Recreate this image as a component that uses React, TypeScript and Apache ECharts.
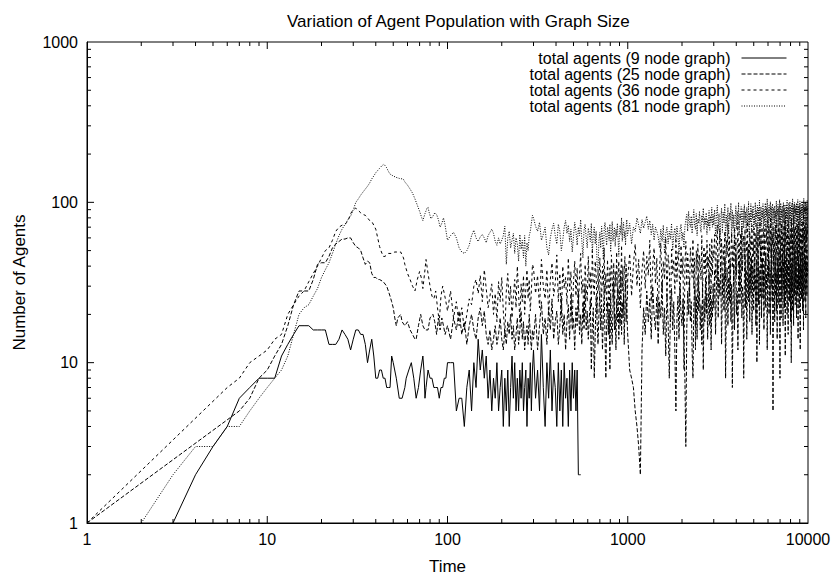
import React, { useEffect, useRef } from 'react';
import * as echarts from 'echarts';

const TITLE = 'Variation of Agent Population with Graph Size';
const X_NAME = 'Time';
const Y_NAME = 'Number of Agents';
const NAMES = [
  'total agents (9 node graph)',
  'total agents (25 node graph)',
  'total agents (36 node graph)',
  'total agents (81 node graph)',
];
const FONT = '"Liberation Sans", Arial, Helvetica, sans-serif';

// ---- early part of each run: [time, agents] ----
const early9: [number, number][] = [
  [3, 1], [4, 2], [5, 3], [6, 4], [7, 6], [8, 7], [9, 8], [10, 8], [11, 8], [12, 11], [13, 13], [14, 15], [15, 17],
  [16, 17], [17, 17], [18, 16], [19, 16], [20, 16], [21, 16], [22, 13], [23, 13], [24, 13], [25, 14], [26, 16],
  [27, 15], [28, 14], [29, 12], [30, 14], [31, 16], [32, 16], [33, 15], [34, 15], [35, 13], [36, 10], [37, 12],
  [38, 14], [39, 11], [40, 8], [41, 8], [42, 9], [43, 9], [44, 8], [45, 8], [46, 7], [47, 7], [48, 7], [49, 11],
  [50, 10], [52, 8], [54, 6], [56, 6], [58, 7], [59, 8], [61, 9], [63, 10], [65, 8], [67, 6], [69, 7], [71, 9],
  [73, 11], [74, 9], [75, 6], [76, 7], [78, 9], [80, 8], [82, 8], [84, 7], [86, 7], [88, 7], [90, 6], [92, 7],
  [94, 7], [96, 8], [98, 8],
];
const early25: [number, number][] = [
  [1, 1], [7, 5], [8, 6], [9, 8], [10, 9], [11, 11], [12, 13], [13, 17], [14, 23], [15, 28], [16, 28], [17, 28],
  [18, 33], [19, 41], [20, 42], [21, 42], [22, 46], [23, 52], [24, 55], [25, 57], [26, 59], [27, 59], [28, 60],
  [29, 60], [30, 56], [31, 53], [32, 52], [33, 50], [34, 45], [35, 41], [36, 43], [37, 42], [38, 36], [39, 34],
  [40, 34], [41, 33], [42, 33], [44, 32], [46, 30], [48, 26], [49, 24], [50, 22], [51, 19], [52, 17], [53, 19],
  [55, 20], [56, 18], [58, 17], [60, 18], [62, 16], [64, 15], [66, 14], [67, 14], [69, 17], [71, 20], [73, 17],
  [75, 16], [78, 16], [80, 19], [83, 20], [85, 18], [87, 15], [89, 19], [91, 16], [93, 19], [95, 17], [97, 15],
];
const early36: [number, number][] = [
  [1, 1], [6, 7], [7, 8], [8, 10], [9, 11], [10, 12], [11, 14], [12, 15], [13, 20], [14, 23], [15, 26], [16, 28],
  [17, 32], [18, 36], [19, 40], [20, 45], [21, 50], [22, 52], [23, 58], [24, 66], [25, 70], [26, 72], [27, 73],
  [28, 76], [29, 85], [30, 90], [31, 92], [32, 89], [33, 86], [34, 84], [35, 83], [36, 80], [37, 77], [38, 76],
  [39, 72], [40, 68], [41, 60], [42, 53], [43, 49], [44, 46], [45, 46], [47, 48], [49, 48], [51, 49], [53, 49],
  [55, 49], [57, 45], [58, 41], [60, 36], [62, 33], [64, 30], [66, 28], [68, 33], [70, 37], [72, 33], [73, 29],
  [75, 38], [76, 44], [78, 36], [80, 30], [82, 26], [84, 25], [86, 28], [88, 22], [90, 18], [92, 26], [94, 30],
  [96, 27], [98, 24],
];
const early81: [number, number][] = [
  [2, 1], [3, 2], [4, 3], [5, 3], [6, 4], [7, 4], [8, 5], [9, 6], [10, 7], [11, 8], [12, 9], [13, 11], [14, 15],
  [15, 20], [16, 22], [17, 23], [18, 26], [19, 29], [20, 34], [21, 38], [22, 42], [23, 48], [24, 55], [25, 62],
  [26, 68], [27, 73], [28, 78], [29, 82], [30, 90], [31, 100], [32, 105], [33, 111], [34, 116], [35, 121],
  [36, 126], [37, 132], [38, 140], [39, 146], [40, 153], [41, 158], [42, 163], [43, 168], [44, 172], [45, 170],
  [46, 164], [47, 156], [48, 150], [50, 146], [52, 143], [54, 141], [56, 140], [57, 139], [58, 134], [60, 128],
  [62, 121], [64, 114], [66, 105], [68, 96], [70, 88], [72, 80], [73, 77], [75, 85], [77, 92], [78, 93], [79, 87],
  [81, 79], [83, 82], [85, 86], [87, 84], [89, 78], [91, 70], [93, 74], [95, 80], [97, 72], [99, 62],
];

// ---- later part, sampled on a regular time step per stretch: [first time, step] ----
const STRETCH_A = [100, 4];
const STRETCH_B = [300, 8];
const STRETCH_C = [1000, 25];
const STRETCH_D = [3000, 35];

const tail9A = [10, 10, 10, 5, 6, 6, 4, 7, 9, 5, 10, 7, 14, 9, 12, 8, 11, 6, 9, 5, 8, 6, 10, 5, 7, 9, 4, 8, 5, 9,
  4, 7, 11, 6, 10, 5, 8, 5, 9, 6, 10, 5, 7, 9, 4, 8, 6, 10, 5, 9];
const tail9B = [12, 6, 9, 5, 15, 7, 4, 10, 6, 12, 5, 9, 7, 4, 10, 5, 9, 4, 10, 6, 8, 4, 9, 5, 10, 6, 9, 5, 9, 2, 2, 2];

const tail25A = [17, 14, 19, 16, 21, 15, 18, 13, 17, 20, 16, 14, 19, 22, 17, 21, 15, 13, 16, 12,
  14, 17, 13, 15, 19, 14, 12, 16, 13, 18, 15, 20, 14, 17, 12, 15, 19, 13, 16, 21,
  14, 18, 12, 15, 17, 13, 20, 15, 12, 16];
const tail25B = [14, 20, 12, 17, 24, 15, 19, 13, 22, 16, 25, 14, 18, 21, 13, 17, 26, 15, 20, 12,
  18, 23, 14, 27, 16, 19, 12, 22, 17, 28, 15, 20, 13, 24, 18, 30, 16, 21, 14, 19,
  25, 9, 17, 22, 8, 15, 26, 18, 13, 20, 28, 16, 23, 12, 19, 30, 14, 8, 18, 24,
  15, 21, 9, 27, 17, 13, 22, 32, 16, 20, 12, 25, 18, 29, 14, 21, 17, 33, 15, 24,
  19, 27, 13, 22, 31, 18, 25, 16];
const tail25C = [16, 9, 8, 7, 5, 4, 3, 2, 12, 22, 15, 28, 18, 25, 14, 30, 20, 16, 26, 13,
  24, 19, 32, 15, 22, 11, 27, 18, 8, 21, 29, 16, 24, 12, 5, 19, 26, 14, 30, 20,
  17, 25, 13, 8, 3, 16, 28, 20, 33, 18, 24, 12, 8, 22, 30, 17, 26, 14, 35, 21,
  28, 16, 23, 13, 31, 9, 25, 18, 34, 20, 27, 14, 22, 36, 17, 29, 12, 25, 19, 31];
const tail25D = [
  22, 38, 15, 30, 44, 19, 33, 26, 41, 13, 29, 36, 21, 45, 8, 27, 39, 17, 34, 24,
  43, 18, 31, 7, 25, 40, 16, 35, 47, 20, 28, 12, 37, 42, 23, 32, 49, 19, 30, 26,
  8, 34, 45, 22, 38, 14, 29, 51, 24, 36, 18, 41, 27, 46, 15, 33, 39, 21, 44, 28,
  35, 17, 42, 10, 30, 48, 23, 37, 13, 40, 26, 52, 19, 34, 45, 25, 38, 16, 31, 43,
  22, 47, 29, 36, 12, 41, 33, 50, 20, 27, 44, 15, 38, 30, 53, 24, 35, 5, 28, 46,
  32, 18, 42, 26, 49, 21, 37, 14, 45, 31, 39, 23, 51, 28, 8, 34, 47, 19, 40, 25,
  36, 48, 17, 43, 29, 54, 22, 38, 11, 46, 33, 27, 50, 20, 41, 35, 15, 44, 30, 52,
  24, 39, 47, 18, 36, 10, 42, 28, 55, 21, 45, 32, 17, 48, 37, 26, 51, 23, 40, 31,
  46, 19, 38, 53, 27, 35, 14, 44, 29, 49, 22, 41, 36, 12, 47, 30, 54, 25, 39, 33,
  50, 21, 43, 34, 16, 48, 28, 40, 55, 24, 37, 45, 19, 52, 31, 42, 26, 47, 35, 38];

const tail36A = [21, 28, 19, 24, 17, 22, 16, 20, 25, 23, 30, 33, 27, 35, 24, 38, 29, 22, 26, 31,
  20, 27, 18, 32, 24, 34, 21, 15, 28, 36, 23, 30, 19, 26, 33, 22, 40, 27, 18, 31,
  24, 35, 20, 29, 38, 25, 33, 21, 28, 41];
const tail36B = [39, 27, 35, 22, 44, 30, 25, 38, 20, 33, 42, 26, 31, 47, 24, 36, 19, 40, 29, 34,
  23, 45, 28, 37, 18, 32, 43, 26, 39, 21, 35, 48, 27, 33, 16, 41, 30, 24, 46, 29,
  37, 22, 50, 31, 26, 43, 35, 20, 38, 28, 45, 33, 24, 40, 30, 52, 27, 36, 21, 44,
  32, 15, 39, 28, 47, 34, 25, 42, 19, 37, 30, 49, 26, 35, 43, 23, 38, 31, 54, 28,
  40, 22, 36, 46, 29, 41, 33, 25];
const tail36C = [34, 48, 26, 41, 55, 30, 44, 22, 38, 50, 29, 46, 35, 58, 24, 40, 52, 31, 45, 19,
  37, 56, 28, 43, 33, 60, 25, 47, 39, 18, 51, 36, 44, 27, 58, 32, 49, 41, 23, 54,
  35, 46, 9, 40, 57, 30, 48, 38, 26, 52, 43, 34, 59, 29, 45, 12, 50, 37, 55, 28,
  47, 40, 33, 62, 26, 44, 53, 36, 49, 22, 58, 39, 46, 31, 55, 42, 27, 60, 35, 50];
const tail36D = [
  45, 63, 34, 56, 72, 29, 50, 68, 38, 59, 26, 53, 41, 66, 32, 58, 46, 73, 36, 61,
  23, 49, 65, 39, 55, 31, 70, 43, 60, 35, 52, 75, 40, 57, 28, 64, 47, 71, 37, 54,
  62, 44, 68, 30, 58, 49, 76, 39, 56, 27, 66, 42, 61, 51, 72, 36, 58, 46, 69, 33,
  55, 64, 41, 74, 48, 60, 35, 67, 53, 79, 44, 62, 38, 70, 50, 57, 31, 65, 46, 73,
  52, 40, 68, 56, 77, 43, 61, 34, 71, 49, 59, 81, 45, 66, 37, 63, 54, 75, 41, 69,
  46, 57, 33, 72, 60, 48, 78, 42, 64, 51, 70, 38, 67, 55, 80, 44, 62, 36, 74, 50,
  65, 43, 71, 58, 47, 76, 39, 68, 53, 82, 46, 63, 57, 35, 73, 49, 66, 41, 77, 52,
  60, 45, 70, 37, 64, 55, 79, 42, 67, 50, 74, 47, 61, 83, 44, 69, 56, 40, 72, 58,
  48, 66, 53, 78, 43, 71, 59, 38, 75, 51, 64, 46, 80, 55, 68, 42, 73, 57, 62, 49,
  76, 44, 69, 58, 84, 47, 65, 53, 71, 40, 78, 60, 50, 74, 56, 67, 45, 81, 63, 70];

const tail81A = [58, 62, 65, 60, 52, 49, 48, 50, 54, 62, 67, 60, 57, 61, 63, 60, 56, 62, 65, 68,
  64, 57, 54, 60, 55, 58, 62, 71, 41, 60, 66, 52, 58, 64, 48, 60, 55, 43, 63, 51,
  58, 45, 62, 40, 56, 50, 62, 66, 74, 83];
const tail81B = [80, 71, 66, 75, 58, 63, 70, 52, 47, 60, 68, 74, 62, 55, 73, 66, 50, 58, 70, 77,
  64, 72, 57, 68, 49, 61, 75, 66, 54, 70, 62, 78, 58, 45, 67, 73, 60, 52, 69, 64,
  57, 74, 48, 63, 70, 55, 66, 40, 38, 58, 65, 52, 71, 60, 44, 68, 75, 62, 54, 70,
  66, 58, 73, 49, 62, 76, 57, 64, 70, 53, 68, 61, 74, 59, 46, 66, 72, 63, 80, 57,
  69, 75, 60, 66, 54, 71, 78, 62];
const tail81C = [62, 74, 55, 70, 66, 80, 72, 64, 78, 69, 75, 82, 68, 77, 63, 73, 58, 70, 66, 61,
  52, 68, 57, 72, 48, 64, 70, 55, 66, 59, 74, 50, 63, 69, 56, 71, 62, 47, 67, 73,
  58, 65, 52, 70, 78, 84, 66, 88, 75, 70, 82, 64, 77, 90, 72, 68, 85, 62, 79, 74,
  88, 70, 65, 83, 76, 92, 68, 80, 73, 86, 63, 78, 71, 89, 67, 82, 75, 93, 70, 84];
const tail81D = [
  72, 90, 61, 82, 96, 67, 85, 55, 79, 92, 65, 87, 74, 98, 58, 83, 70, 93, 63, 86,
  77, 99, 57, 89, 69, 84, 52, 80, 95, 68, 88, 73, 100, 62, 85, 78, 94, 56, 82, 91,
  69, 97, 76, 87, 64, 93, 81, 71, 101, 60, 86, 75, 98, 67, 90, 79, 95, 63, 84, 73,
  100, 70, 88, 81, 96, 59, 92, 77, 103, 66, 85, 94, 71, 89, 80, 98, 62, 91, 75, 87,
  99, 68, 93, 82, 105, 73, 90, 64, 96, 79, 86, 101, 71, 94, 65, 89, 98, 77, 92, 83,
  74, 95, 60, 88, 80, 102, 69, 91, 84, 97, 66, 93, 78, 104, 72, 87, 99, 63, 90, 81,
  95, 70, 86, 100, 75, 92, 67, 97, 83, 89, 62, 96, 79, 103, 74, 88, 93, 68, 99, 85,
  78, 101, 72, 94, 87, 64, 98, 82, 90, 105, 76, 93, 69, 97, 86, 100, 73, 91, 84, 96,
  66, 99, 81, 92, 77, 104, 70, 95, 88, 63, 97, 80, 102, 75, 90, 86, 98, 71, 94, 83,
  89, 100, 74, 96, 82, 106, 68, 93, 87, 99, 77, 101, 84, 92, 72, 97, 88, 103, 80, 95];

// axis decorations
const DECADES_X = [1, 10, 100, 1000];
const DECADES_Y = [1, 10, 100];
const MINOR_MULT = [2, 3, 4, 5, 6, 7, 8, 9];
const MAJOR_X = [10, 100, 1000];
const MAJOR_Y = [10, 100];

function stretch(s: number[], values: number[]): [number, number][] {
  return values.map((v, i) => [s[0] + i * s[1], v]);
}

function buildTicks() {
  const out: number[][] = [];
  const MINOR = 4;
  const MAJOR = 7;
  DECADES_X.forEach((d) => MINOR_MULT.forEach((m) => {
    out.push([d * m, 1, 0, MINOR]);
    out.push([d * m, 1000, 1, MINOR]);
  }));
  MAJOR_X.forEach((t) => { out.push([t, 1, 0, MAJOR]); out.push([t, 1000, 1, MAJOR]); });
  DECADES_Y.forEach((d) => MINOR_MULT.forEach((m) => {
    out.push([1, d * m, 2, MINOR]);
    out.push([10000, d * m, 3, MINOR]);
  }));
  MAJOR_Y.forEach((v) => { out.push([1, v, 2, MAJOR]); out.push([10000, v, 3, MAJOR]); });
  return out;
}

export default function App() {
  const ref = useRef<HTMLDivElement>(null);
  useEffect(() => {
    if (!ref.current) return;
    const chart = echarts.init(ref.current, undefined, { renderer: 'svg' });
    const s9 = [...early9, ...stretch(STRETCH_A, tail9A), ...stretch(STRETCH_B, tail9B)];
    const s25 = [...early25, ...stretch(STRETCH_A, tail25A), ...stretch(STRETCH_B, tail25B),
      ...stretch(STRETCH_C, tail25C), ...stretch(STRETCH_D, tail25D)];
    const s36 = [...early36, ...stretch(STRETCH_A, tail36A), ...stretch(STRETCH_B, tail36B),
      ...stretch(STRETCH_C, tail36C), ...stretch(STRETCH_D, tail36D)];
    const s81 = [...early81, ...stretch(STRETCH_A, tail81A), ...stretch(STRETCH_B, tail81B),
      ...stretch(STRETCH_C, tail81C), ...stretch(STRETCH_D, tail81D)];

    const lineSeries = (name: string, data: [number, number][], type: any) => ({
      name,
      type: 'line',
      data,
      symbol: 'none',
      showSymbol: false,
      silent: true,
      lineStyle: { color: '#000', width: 1, type },
      itemStyle: { color: '#000' },
      z: 3,
    });

    const tickLabel = { color: '#000', fontSize: 16, fontFamily: FONT };
    const nameStyle = { color: '#000', fontSize: 17, fontFamily: FONT };

    chart.setOption({
      animation: false,
      backgroundColor: '#fff',
      title: {
        text: TITLE,
        left: 282,
        top: 8,
        textStyle: { fontSize: 17, fontWeight: 'normal', color: '#000', fontFamily: FONT },
      },
      legend: {
        data: NAMES,
        orient: 'vertical',
        align: 'right',
        right: 48,
        top: 50,
        padding: 0,
        itemGap: 0,
        itemWidth: 45,
        itemHeight: 15,
        selectedMode: false,
        itemStyle: { opacity: 0 },
        lineStyle: { width: 1 },
        textStyle: { fontSize: 16, color: '#000', fontFamily: FONT, lineHeight: 15, padding: [0, 6, 0, 0] },
      },
      grid: {
        left: 87,
        right: 27,
        top: 42,
        bottom: 52,
        show: true,
        borderColor: '#000',
        borderWidth: 1,
        backgroundColor: 'transparent',
      },
      xAxis: {
        type: 'log',
        logBase: 10,
        min: 1,
        max: 10000,
        name: X_NAME,
        nameLocation: 'middle',
        nameGap: 35,
        nameTextStyle: nameStyle,
        axisLine: { show: true, onZero: false, lineStyle: { color: '#000', width: 1 } },
        axisTick: { show: false },
        splitLine: { show: false },
        axisLabel: { ...tickLabel, margin: 8, formatter: (v: number) => String(Math.round(v)) },
      },
      yAxis: {
        type: 'log',
        logBase: 10,
        min: 1,
        max: 1000,
        name: Y_NAME,
        nameLocation: 'middle',
        nameGap: 59,
        nameTextStyle: nameStyle,
        axisLine: { show: true, onZero: false, lineStyle: { color: '#000', width: 1 } },
        axisTick: { show: false },
        splitLine: { show: false },
        axisLabel: { ...tickLabel, margin: 9, formatter: (v: number) => String(Math.round(v)) },
      },
      series: [
        lineSeries(NAMES[0], s9, 'solid'),
        lineSeries(NAMES[1], s25, [4, 2]),
        lineSeries(NAMES[2], s36, [3, 3]),
        lineSeries(NAMES[3], s81, [1, 1.5]),
        {
          type: 'custom',
          silent: true,
          clip: false,
          z: 5,
          encode: { x: 0, y: 1 },
          data: buildTicks(),
          renderItem: (params: any, api: any) => {
            const side = api.value(2);
            const len = api.value(3);
            const p = api.coord([api.value(0), api.value(1)]);
            let x2 = p[0];
            let y2 = p[1];
            if (side === 0) y2 -= len;
            else if (side === 1) y2 += len;
            else if (side === 2) x2 += len;
            else x2 -= len;
            return {
              type: 'line',
              shape: { x1: p[0], y1: p[1], x2, y2 },
              style: { stroke: '#000', lineWidth: 1 },
            };
          },
        },
      ],
    });
    return () => chart.dispose();
  }, []);
  return <div ref={ref} style={{ position: 'fixed', left: 0, top: 0, width: 835, height: 580 }} />;
}
